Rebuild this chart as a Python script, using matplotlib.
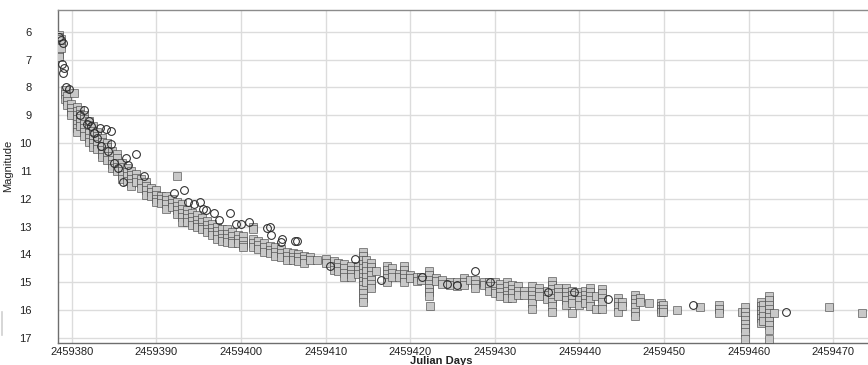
"""
light curve of the outburst: visual / CCD magnitudes against Julian day
"""

import matplotlib as mpl
mpl.use("Agg")
import matplotlib.pyplot as plt
from matplotlib.lines import Line2D

plt.rcParams["font.family"] = ["Liberation Sans", "DejaVu Sans"]

# square markers, one entry per night: Julian day and the magnitudes of that night
sq_jd = [
    2459378.55, 2459378.70, 2459379.20, 2459379.50, 2459380.24, 2459379.90,
    2459380.60, 2459381.00, 2459381.50, 2459382.00, 2459382.50, 2459383.00,
    2459383.60, 2459384.20, 2459384.80, 2459385.30, 2459386.00, 2459386.50,
    2459387.00, 2459387.60, 2459388.20, 2459388.80, 2459389.40, 2459390.00,
    2459390.60, 2459391.20, 2459391.80, 2459392.40, 2459392.45, 2459393.00,
    2459393.60, 2459394.20, 2459394.80, 2459395.40, 2459396.00, 2459396.60,
    2459397.20, 2459397.80, 2459398.40, 2459399.00, 2459399.60, 2459400.20,
    2459401.40, 2459402.00, 2459402.70, 2459403.40, 2459404.00, 2459404.70,
    2459405.40, 2459406.10, 2459406.80, 2459407.50, 2459408.20, 2459409.00,
    2459410.00, 2459411.00, 2459411.50, 2459412.20, 2459413.00, 2459413.80,
    2459414.40, 2459414.80, 2459415.40, 2459416.00, 2459417.30, 2459417.90,
    2459418.70, 2459419.30, 2459420.00, 2459420.80, 2459421.30, 2459422.20,
    2459422.30, 2459423.00, 2459423.80, 2459424.70, 2459425.50, 2459426.30,
    2459427.10, 2459427.70, 2459428.70, 2459429.30, 2459430.00, 2459430.60,
    2459431.40, 2459432.00, 2459432.70, 2459433.50, 2459434.40, 2459435.20,
    2459436.20, 2459436.80, 2459437.50, 2459438.40, 2459439.10, 2459439.90,
    2459440.60, 2459441.20, 2459441.90, 2459442.70, 2459444.50, 2459445.00,
    2459446.60, 2459447.10, 2459448.20, 2459449.60, 2459449.90, 2459451.50,
    2459454.30, 2459456.50, 2459459.20, 2459459.60, 2459461.50, 2459461.70,
    2459462.40, 2459463.00, 2459469.50, 2459473.40,
]
sq_mag = [
    [6.1, 6.2, 6.35, 6.5, 6.65, 6.8, 6.9], [6.25, 6.45, 6.6],
    [8.1, 8.25, 8.4], [8.3, 8.5, 8.65], [8.2], [8.6, 8.75, 8.9, 9.0],
    [8.7, 8.85, 9.0, 9.15, 9.3, 9.45, 9.6], [8.8, 8.95, 9.1, 9.25, 9.4],
    [9.0, 9.15, 9.3, 9.45, 9.6, 9.75], [9.2, 9.35, 9.5, 9.65, 9.8, 9.95],
    [9.4, 9.55, 9.7, 9.85, 10.0, 10.15], [9.6, 9.75, 9.9, 10.05, 10.2],
    [9.8, 9.95, 10.1, 10.25, 10.4, 10.5], [10.0, 10.15, 10.3, 10.45, 10.6],
    [10.3, 10.45, 10.6, 10.75, 10.9], [10.4, 10.55, 10.7, 10.85, 11.0],
    [10.7, 10.85, 11.0, 11.15, 11.3], [10.9, 11.05, 11.2, 11.35],
    [11.0, 11.15, 11.3, 11.45, 11.55], [11.1, 11.25, 11.4],
    [11.3, 11.45, 11.6], [11.4, 11.55, 11.7, 11.85], [11.6, 11.75, 11.9],
    [11.7, 11.85, 12.0, 12.1], [11.9, 12.0, 12.15],
    [11.9, 12.05, 12.2, 12.35], [12.0, 12.15, 12.3], [11.2],
    [12.1, 12.25, 12.4, 12.55], [12.2, 12.35, 12.5, 12.65, 12.85],
    [12.4, 12.55, 12.7, 12.85], [12.5, 12.65, 12.8, 12.95],
    [12.6, 12.75, 12.9, 13.0], [12.7, 12.85, 13.0, 13.1],
    [12.8, 12.95, 13.1, 13.2], [12.9, 13.05, 13.2, 13.3],
    [13.0, 13.15, 13.3, 13.45], [13.1, 13.25, 13.4, 13.5],
    [13.1, 13.25, 13.4, 13.55], [13.2, 13.35, 13.5, 13.6],
    [13.3, 13.45, 13.6], [13.35, 13.5, 13.65, 13.75],
    [13.0, 13.1, 13.45, 13.6, 13.75], [13.5, 13.65, 13.8],
    [13.6, 13.75, 13.9], [13.7, 13.85, 13.95], [13.75, 13.9, 14.05],
    [13.8, 13.95, 14.1], [13.9, 14.05, 14.2], [13.95, 14.1, 14.2],
    [14.0, 14.1, 14.25], [14.05, 14.15, 14.3], [14.1, 14.2], [14.2],
    [14.15, 14.3], [14.25, 14.4, 14.55], [14.3, 14.45, 14.6],
    [14.35, 14.5, 14.65, 14.8], [14.4, 14.55, 14.7, 14.8],
    [14.4, 14.55, 14.7],
    [13.9, 14.05, 14.2, 14.35, 14.5, 14.65, 14.8, 14.95, 15.1, 15.25, 15.4,
     15.55, 15.7],
    [14.2, 14.4, 14.6, 14.8, 15.0],
    [14.3, 14.45, 14.6, 14.75, 14.9, 15.05, 15.2], [14.6],
    [14.4, 14.55, 14.7, 14.85, 15.0], [14.5, 14.65, 14.8], [14.7, 14.8],
    [14.4, 14.55, 14.7, 14.85, 15.0], [14.75, 14.85], [14.8, 14.95],
    [14.8, 14.9], [14.6, 14.75, 14.9, 15.05, 15.2, 15.35, 15.5], [15.85],
    [14.85, 14.95], [14.9, 15.05], [15.0, 15.1], [15.0, 15.15],
    [14.85, 15.0, 15.1], [14.9], [14.9, 15.05, 15.2], [15.0, 15.1],
    [15.0, 15.15, 15.3], [15.0, 15.15, 15.3, 15.4],
    [15.05, 15.2, 15.35, 15.5], [15.0, 15.15, 15.3, 15.45, 15.55],
    [15.1, 15.25, 15.4, 15.55], [15.15, 15.3, 15.45], [15.3, 15.45],
    [15.15, 15.3, 15.45, 15.6, 15.75, 15.95], [15.2, 15.35, 15.5],
    [15.3, 15.45, 15.6],
    [14.95, 15.1, 15.25, 15.4, 15.55, 15.7, 15.85, 16.05],
    [15.2, 15.35, 15.5], [15.2, 15.35, 15.5, 15.65, 15.8],
    [15.3, 15.45, 15.6, 15.75, 16.1], [15.35, 15.5, 15.65, 15.8],
    [15.3, 15.45, 15.6, 15.75], [15.2, 15.35, 15.5, 15.65, 15.85],
    [15.5, 15.95], [15.25, 15.4, 15.55, 15.7, 15.95],
    [15.55, 15.7, 15.85, 16.05], [15.7, 15.85],
    [15.45, 15.6, 15.75, 15.9, 16.05, 16.2], [15.55, 15.7], [15.75],
    [15.75, 15.85, 15.95, 16.05], [15.8, 15.95, 16.05], [16.0], [15.9],
    [15.8, 15.95, 16.1], [16.05],
    [15.9, 16.05, 16.2, 16.35, 16.5, 16.65, 16.8, 17.05],
    [15.7, 15.85, 16.0, 16.15, 16.3, 16.45], [15.8, 16.0, 16.2, 16.4],
    [15.5, 15.65, 15.8, 15.95, 16.1, 16.25, 16.4, 16.55, 16.7, 17.05],
    [16.1], [15.9], [16.1],
]

# open circle estimates
circ_jd = [
    2459378.47, 2459378.70, 2459378.94, 2459378.80, 2459379.05, 2459378.94,
    2459379.30, 2459379.65, 2459381.00, 2459381.40, 2459381.80, 2459382.00,
    2459382.30, 2459382.60, 2459383.00, 2459383.40, 2459383.50, 2459384.00,
    2459384.30, 2459384.60, 2459384.60, 2459385.00, 2459385.50, 2459386.10,
    2459386.40, 2459386.60, 2459387.56, 2459388.50, 2459392.04, 2459393.30,
    2459393.80, 2459394.40, 2459395.20, 2459395.50, 2459395.90, 2459396.80,
    2459397.40, 2459398.65, 2459399.40, 2459399.95, 2459400.90, 2459403.10,
    2459403.40, 2459403.60, 2459404.70, 2459404.90, 2459406.40, 2459406.60,
    2459410.50, 2459413.50, 2459416.50, 2459421.40, 2459424.40, 2459425.50,
    2459427.60, 2459429.40, 2459436.30, 2459439.30, 2459443.40, 2459453.40,
    2459464.40,
]
circ_mag = [
    6.2, 6.3, 6.4, 7.15, 7.3, 7.5,
    8.0, 8.05, 9.0, 8.8, 9.3, 9.2,
    9.4, 9.65, 9.8, 9.45, 10.1, 9.5,
    10.3, 9.55, 10.05, 10.7, 10.9, 11.4,
    10.55, 10.8, 10.4, 11.2, 11.8, 11.7,
    12.1, 12.2, 12.1, 12.35, 12.4, 12.5,
    12.75, 12.5, 12.9, 12.9, 12.85, 13.05,
    13.0, 13.3, 13.55, 13.45, 13.5, 13.5,
    14.4, 14.15, 14.9, 14.8, 15.05, 15.1,
    14.6, 15.0, 15.35, 15.35, 15.6, 15.8,
    16.07,
]

x_ticks = [2459380, 2459390, 2459400, 2459410, 2459420, 2459430, 2459440,
           2459450, 2459460, 2459470]
y_ticks = list(range(6, 18))

fig = plt.figure(figsize=(8.68, 3.65), dpi=100)
ax = fig.add_axes([58 / 868, 1 - 342.7 / 365, 1 - 58 / 868, (342.7 - 10) / 365])

# expand the nightly groups into individual points
pts_x, pts_y = [], []
for jd, mags in zip(sq_jd, sq_mag):
    for m in mags:
        pts_x.append(jd)
        pts_y.append(m)

# semi-transparent edges so that stacked nights read darker
ax.plot(pts_x, pts_y, linestyle="none", marker="s", markersize=5.6,
        markerfacecolor="#c8c8c8", markeredgecolor=(0.2, 0.2, 0.2, 0.55),
        markeredgewidth=0.7, zorder=3)
ax.plot(circ_jd, circ_mag, linestyle="none", marker="o", markersize=5.6,
        markerfacecolor="none", markeredgecolor="#2a2a2a",
        markeredgewidth=0.75, zorder=4)

ax.set_xlim(2459378.38, 2459474.1)
ax.set_ylim(17.17, 5.22)
ax.set_xticks(x_ticks)
ax.set_yticks(y_ticks)
ax.set_xticklabels([str(t) for t in x_ticks])

ax.grid(True, color="#dcdcdc", linewidth=1.0, zorder=0)
ax.set_axisbelow(True)

ax.tick_params(axis="y", length=0, pad=19, labelsize=8, labelcolor="#222222")
ax.tick_params(axis="x", length=0, pad=3, labelsize=8, labelcolor="#222222")
for lab in ax.get_yticklabels():
    lab.set_horizontalalignment("right")

ax.spines["right"].set_visible(False)
ax.spines["top"].set_color("#8c8c8c")
ax.spines["left"].set_color("#6e6e6e")
ax.spines["bottom"].set_color("#6e6e6e")
for s in ax.spines.values():
    s.set_linewidth(1.0)

ax.set_xlabel("Julian Days", fontsize=8, fontweight="bold", color="#222222")
ax.xaxis.set_label_coords(0.473, -0.04)
ax.set_ylabel("Magnitude", fontsize=8, color="#222222")
ax.yaxis.set_label_coords(-0.056, 0.53)

# faint edge mark at the left border
fig.add_artist(Line2D([1.5 / 868, 1.5 / 868], [1 - 335 / 365, 1 - 312 / 365],
                      color="#d0d0d0", linewidth=1.2))

plt.savefig("out.png", dpi=100)
plt.close()
